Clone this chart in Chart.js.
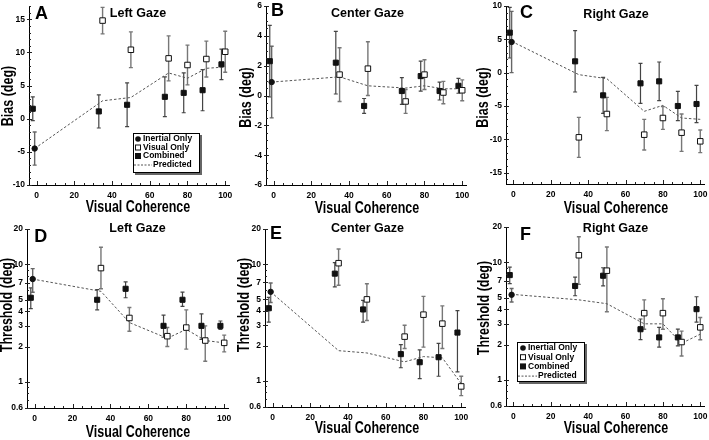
<!DOCTYPE html>
<html><head><meta charset="utf-8">
<script src="https://cdn.jsdelivr.net/npm/chart.js@4.4.1/dist/chart.umd.min.js"></script>
<style>
html,body{margin:0;padding:0;background:#fff;width:709px;height:440px;overflow:hidden}
canvas{position:absolute;left:0;top:0}
</style></head><body>
<canvas id="cA" width="709" height="440"></canvas>
<canvas id="cB" width="709" height="440"></canvas>
<canvas id="cC" width="709" height="440"></canvas>
<canvas id="cD" width="709" height="440"></canvas>
<canvas id="cE" width="709" height="440"></canvas>
<canvas id="cF" width="709" height="440"></canvas>
<script>
// ---------- data ----------
const coherenceCombined = [-2, 33, 48, 68, 78, 88, 98];
const coherenceVisual = [35, 50, 70, 80, 90, 100];
const coherenceInertial = [-1];
const coherencePredicted = [-1, 35, 50, 70, 80, 90, 100];
const xTickLabels = [0, 20, 40, 60, 80, 100];
const biasTicksLeft = [-10, -5, 0, 5, 10, 15];
const biasTicksCenter = [-6, -4, -2, 0, 2, 4, 6];
const biasTicksRight = [-15, -10, -5, 0, 5, 10];
const thresholdTicks = [0.6, 1, 2, 3, 4, 5, 7, 10, 20];
const thresholdMinorTicks = [0.7, 0.8, 0.9, 6, 8, 9];

// A: left gaze bias (value, symmetric error)
const leftBiasInertial = [-4.5];
const leftBiasInertialErr = [2.5];
const leftBiasCombined = [1.5, 1.1, 2.1, 3.3, 3.9, 4.3, 8.2];
const leftBiasCombinedErr = [1.8, 2.5, 3.3, 3.0, 3.0, 3.1, 2.3];
const leftBiasVisual = [14.8, 10.4, 9.1, 8.1, 9.0, 10.1];
const leftBiasVisualErr = [2.0, 2.7, 3.4, 3.0, 2.7, 3.1];
const leftBiasPredicted = [-4.5, 2.7, 3.2, 6.9, 6.1, 7.6, 7.8];

// B: center gaze bias
const centerBiasInertial = [0.9];
const centerBiasInertialErr = [2.4];
const centerBiasCombined = [2.3, 2.2, -0.7, 0.3, 1.3, 0.3, 0.65];
const centerBiasCombinedErr = [2.4, 2.1, 0.5, 0.9, 1.0, 0.6, 0.5];
const centerBiasVisual = [1.4, 1.8, -0.4, 1.4, 0.2, 0.35];
const centerBiasVisualErr = [1.8, 1.8, 0.8, 1.0, 0.75, 0.7];
const centerBiasPredicted = [0.9, 1.25, 0.65, 0.5, 0.65, 0.45, 0.45];

// C: right gaze bias
const rightBiasInertial = [4.6];
const rightBiasInertialErr = [4.6];
const rightBiasCombined = [6.0, 1.7, -3.4, -1.6, -1.3, -5.0, -4.7];
const rightBiasCombinedErr = [3.8, 4.6, 2.7, 3.0, 2.9, 2.2, 2.8];
const rightBiasVisual = [-9.7, -6.2, -9.3, -6.8, -9.0, -10.3];
const rightBiasVisualErr = [3.0, 2.5, 2.3, 1.7, 2.8, 1.7];
const rightBiasPredicted = [4.7, -0.3, -0.9, -5.8, -4.9, -6.8, -7.0];

// D: left gaze threshold (value, low, high)
const leftThrInertial = [7.5], leftThrInertialLo = [5.8], leftThrInertialHi = [9.2];
const leftThrCombined = [5.2, 5.0, 6.2, 3.0, 5.0, 3.0, 3.0];
const leftThrCombinedLo = [4.2, 4.1, 5.2, 2.4, 4.4, 2.3, 2.8];
const leftThrCombinedHi = [6.3, 6.1, 7.1, 3.7, 5.8, 3.8, 3.3];
const leftThrVisual = [9.3, 3.5, 2.45, 2.9, 2.25, 2.15];
const leftThrVisualLo = [6.2, 2.7, 2.0, 1.9, 1.5, 1.8];
const leftThrVisualHi = [14.0, 4.3, 2.9, 4.1, 3.0, 2.5];
const leftThrPredicted = [7.5, 5.9, 3.2, 2.35, 2.8, 2.25, 2.15];

// E: center gaze threshold
const centerThrInertial = [5.8], centerThrInertialLo = [4.7], centerThrInertialHi = [6.9];
const centerThrCombined = [4.2, 8.3, 4.1, 1.7, 1.45, 1.6, 2.6];
const centerThrCombinedLo = [3.2, 6.4, 3.2, 1.3, 1.05, 1.1, 1.2];
const centerThrCombinedHi = [5.2, 10.3, 4.9, 2.05, 1.85, 2.1, 4.0];
const centerThrVisual = [10.2, 5.0, 2.4, 3.7, 3.1, 0.9];
const centerThrVisualLo = [6.6, 3.3, 1.9, 1.95, 1.9, 0.75];
const centerThrVisualHi = [13.5, 6.8, 3.0, 5.3, 4.4, 1.1];
const centerThrPredicted = [5.8, 1.82, 1.74, 1.46, 1.62, 1.58, 0.95];

// F: right gaze threshold
const rightThrInertial = [5.3], rightThrInertialLo = [4.6], rightThrInertialHi = [6.0];
const rightThrCombined = [7.8, 6.3, 7.7, 2.7, 2.3, 2.3, 4.0];
const rightThrCombinedLo = [6.6, 5.2, 6.3, 2.2, 1.9, 1.95, 3.1];
const rightThrCombinedHi = [9.1, 7.5, 9.0, 3.3, 2.8, 2.7, 5.1];
const rightThrVisual = [11.5, 8.5, 3.7, 3.7, 2.1, 2.8];
const rightThrVisualLo = [6.5, 3.8, 2.7, 2.7, 1.6, 2.2];
const rightThrVisualHi = [16.5, 13.5, 4.8, 4.9, 2.6, 3.4];
const rightThrPredicted = [5.35, 4.8, 4.45, 3.0, 3.0, 2.05, 2.45];

const seriesLabels = ['Inertial Only', 'Visual Only', 'Combined', 'Predicted'];

// ---------- helpers ----------
const FONT = '"Liberation Sans", Arial, Helvetica, sans-serif';
const pts = (xs, ys) => xs.map((x, i) => ({x: x, y: ys[i]}));

function makeDatasets(s) {
  return [
    {label: seriesLabels[3], data: pts(coherencePredicted, s.pred), showLine: true,
     borderColor: '#555', borderWidth: 1, borderDash: [2.5, 2], pointRadius: 0, order: 4, rank: 3},
    {label: seriesLabels[2], data: pts(coherenceCombined, s.comb), pointStyle: 'rect', pointRadius: 3.6,
     backgroundColor: '#111', borderColor: '#111', borderWidth: 1, order: 3, rank: 2,
     errLo: s.combLo, errHi: s.combHi, errColor: '#444', errWidth: 1.2},
    {label: seriesLabels[1], data: pts(coherenceVisual, s.vis), pointStyle: 'rect', pointRadius: 3.9,
     backgroundColor: '#fff', borderColor: '#111', borderWidth: 1, order: 2, rank: 1,
     errLo: s.visLo, errHi: s.visHi, errColor: '#777', errWidth: 1.4},
    {label: seriesLabels[0], data: pts(coherenceInertial, s.inert), pointStyle: 'circle', pointRadius: 2.7,
     backgroundColor: '#111', borderColor: '#111', borderWidth: 1, order: 1, rank: 0,
     errLo: s.inertLo, errHi: s.inertHi, errColor: '#666', errWidth: 1.4}
  ];
}
const symLo = (v, e) => v.map((x, i) => x - e[i]);
const symHi = (v, e) => v.map((x, i) => x + e[i]);

// ---------- plugins ----------
const errorBars = {
  id: 'errorBars',
  beforeDatasetsDraw(chart) {
    const ctx = chart.ctx, xs = chart.scales.x, ys = chart.scales.y;
    chart.data.datasets.forEach(ds => {
      if (!ds.errLo) return;
      ctx.save();
      ctx.strokeStyle = ds.errColor; ctx.lineWidth = ds.errWidth;
      ds.data.forEach((p, j) => {
        const x = xs.getPixelForValue(p.x);
        const y1 = ys.getPixelForValue(ds.errLo[j]);
        const y2 = ys.getPixelForValue(ds.errHi[j]);
        ctx.beginPath();
        ctx.moveTo(x, y1); ctx.lineTo(x, y2);
        ctx.moveTo(x - 2, y1); ctx.lineTo(x + 2, y1);
        ctx.moveTo(x - 2, y2); ctx.lineTo(x + 2, y2);
        ctx.stroke();
      });
      ctx.restore();
    });
  }
};

const tickMarks = {
  id: 'tickMarks',
  afterDraw(chart, args, o) {
    const xs = chart.scales.x, ys = chart.scales.y, a = chart.chartArea, ctx = chart.ctx;
    ctx.save(); ctx.strokeStyle = '#222'; ctx.lineWidth = 1; ctx.beginPath();
    for (let v = 0; v <= 100; v += 5) {
      const px = Math.round(xs.getPixelForValue(v)) + 0.5, len = (v % 20 === 0) ? 4 : 2;
      ctx.moveTo(px, a.bottom); ctx.lineTo(px, a.bottom - len);
    }
    const yMaj = o.yMajor, yMin = o.yMinor;
    yMaj.forEach(v => { const py = Math.round(ys.getPixelForValue(v)) + 0.5; ctx.moveTo(a.left - 2, py); ctx.lineTo(a.left + 3, py); });
    yMin.forEach(v => { const py = Math.round(ys.getPixelForValue(v)) + 0.5; ctx.moveTo(a.left, py); ctx.lineTo(a.left + 2, py); });
    ctx.stroke(); ctx.restore();
  }
};

const panelText = {
  id: 'panelText',
  afterDraw(chart, args, o) {
    const ctx = chart.ctx;
    ctx.save(); ctx.fillStyle = '#000';
    ctx.font = 'bold 18px ' + FONT; ctx.textAlign = 'left'; ctx.textBaseline = 'alphabetic';
    ctx.fillText(o.letter, o.letterPos[0], o.letterPos[1]);
    ctx.font = 'bold 12.5px ' + FONT; ctx.textAlign = 'center';
    ctx.fillText(o.title, o.titlePos[0], o.titlePos[1]);
    ctx.font = 'bold 16px ' + FONT;
    ctx.save(); ctx.translate(o.xTitlePos[0], o.xTitlePos[1]); ctx.scale(0.78, 1);
    ctx.fillText(o.xTitle, 0, 0); ctx.restore();
    ctx.save(); ctx.translate(o.yTitlePos[0], o.yTitlePos[1]); ctx.rotate(-Math.PI / 2); ctx.scale(0.78, 1);
    ctx.textBaseline = 'middle'; ctx.fillText(o.yTitle, 0, 0); ctx.restore();
    ctx.restore();
  }
};

const boxLegend = {
  id: 'boxLegend',
  afterDraw(chart, args, o) {
    if (!o.box) return;
    const ctx = chart.ctx, [x, y, w, h] = o.box;
    ctx.save();
    ctx.fillStyle = '#666'; ctx.fillRect(x + 2, y + 2, w, h);
    ctx.fillStyle = '#fff'; ctx.fillRect(x, y, w, h);
    ctx.strokeStyle = '#000'; ctx.lineWidth = 1; ctx.strokeRect(x + 0.5, y + 0.5, w - 1, h - 1);
    const items = chart.data.datasets.slice().sort((a, b) => a.rank - b.rank);
    ctx.font = 'bold 8.5px ' + FONT; ctx.textBaseline = 'middle'; ctx.textAlign = 'left';
    items.forEach((ds, i) => {
      const cy = y + o.rowTop + i * o.rowStep;
      const mx = x + o.markerX;
      ctx.fillStyle = '#111'; ctx.strokeStyle = '#111'; ctx.lineWidth = 1;
      if (ds.showLine) {
        ctx.save(); ctx.strokeStyle = '#555'; ctx.setLineDash([2, 1.5]);
        ctx.beginPath(); ctx.moveTo(x + 1, cy + 0.5); ctx.lineTo(x + o.lineEnd, cy + 0.5); ctx.stroke(); ctx.restore();
        ctx.fillStyle = '#000'; ctx.fillText(ds.label, x + o.lineEnd + 1, cy);
        return;
      }
      if (ds.pointStyle === 'circle') {
        ctx.beginPath(); ctx.arc(mx, cy, 2.8, 0, Math.PI * 2); ctx.fill();
      } else if (ds.backgroundColor === '#fff') {
        ctx.fillStyle = '#fff'; ctx.fillRect(mx - 2.5, cy - 2.5, 5, 5); ctx.strokeRect(mx - 2.5, cy - 2.5, 5, 5);
      } else {
        ctx.fillRect(mx - 3, cy - 3, 6, 6);
      }
      ctx.fillStyle = '#000'; ctx.fillText(ds.label, x + o.textX, cy);
    });
    ctx.restore();
  }
};

// ---------- panels ----------
const range = (a, b, s) => { const r = []; for (let v = a; v <= b + 1e-9; v += s) r.push(+v.toFixed(3)); return r; };

const panels = [
  {id: 'cA', letter: 'A', title: 'Left Gaze', area: [29, 6, 229, 185], type: 'linear', ymin: -10, ymax: 17,
   yTicks: biasTicksLeft, yMinor: range(-10, 17, 1), yTitle: 'Bias (deg)',
   letterPos: [35, 19], titlePos: [138, 16.7], xTitlePos: [138, 212.3], yTitlePos: [9, 96],
   s: {inert: leftBiasInertial, inertLo: symLo(leftBiasInertial, leftBiasInertialErr), inertHi: symHi(leftBiasInertial, leftBiasInertialErr),
       comb: leftBiasCombined, combLo: symLo(leftBiasCombined, leftBiasCombinedErr), combHi: symHi(leftBiasCombined, leftBiasCombinedErr),
       vis: leftBiasVisual, visLo: symLo(leftBiasVisual, leftBiasVisualErr), visHi: symHi(leftBiasVisual, leftBiasVisualErr),
       pred: leftBiasPredicted},
   legend: {box: [133, 133, 67, 40], rowTop: 6, rowStep: 8.5, markerX: 5, textX: 10, lineEnd: 19}},
  {id: 'cB', letter: 'B', title: 'Center Gaze', area: [266, 6, 466, 185], type: 'linear', ymin: -6, ymax: 6,
   yTicks: biasTicksCenter, yMinor: range(-6, 6, 0.5), yTitle: 'Bias (deg)',
   letterPos: [271, 16], titlePos: [367.5, 17.3], xTitlePos: [367, 212.5], yTitlePos: [247, 97.5],
   s: {inert: centerBiasInertial, inertLo: symLo(centerBiasInertial, centerBiasInertialErr), inertHi: symHi(centerBiasInertial, centerBiasInertialErr),
       comb: centerBiasCombined, combLo: symLo(centerBiasCombined, centerBiasCombinedErr), combHi: symHi(centerBiasCombined, centerBiasCombinedErr),
       vis: centerBiasVisual, visLo: symLo(centerBiasVisual, centerBiasVisualErr), visHi: symHi(centerBiasVisual, centerBiasVisualErr),
       pred: centerBiasPredicted},
   legend: {}},
  {id: 'cC', letter: 'C', title: 'Right Gaze', area: [506, 6, 706, 184], type: 'linear', ymin: -16.7, ymax: 10,
   yTicks: biasTicksRight, yMinor: range(-16, 10, 1), yTitle: 'Bias (deg)',
   letterPos: [520, 17.7], titlePos: [616, 18.3], xTitlePos: [616, 213], yTitlePos: [484, 97.5],
   s: {inert: rightBiasInertial, inertLo: symLo(rightBiasInertial, rightBiasInertialErr), inertHi: symHi(rightBiasInertial, rightBiasInertialErr),
       comb: rightBiasCombined, combLo: symLo(rightBiasCombined, rightBiasCombinedErr), combHi: symHi(rightBiasCombined, rightBiasCombinedErr),
       vis: rightBiasVisual, visLo: symLo(rightBiasVisual, rightBiasVisualErr), visHi: symHi(rightBiasVisual, rightBiasVisualErr),
       pred: rightBiasPredicted},
   legend: {}},
  {id: 'cD', letter: 'D', title: 'Left Gaze', area: [27, 229, 228, 408], type: 'logarithmic', ymin: 0.6, ymax: 20,
   yTicks: thresholdTicks, yMinor: thresholdMinorTicks, yTitle: 'Threshold (deg)',
   letterPos: [34.3, 242.3], titlePos: [137.5, 231.7], xTitlePos: [138, 436.5], yTitlePos: [8, 305],
   s: {inert: leftThrInertial, inertLo: leftThrInertialLo, inertHi: leftThrInertialHi,
       comb: leftThrCombined, combLo: leftThrCombinedLo, combHi: leftThrCombinedHi,
       vis: leftThrVisual, visLo: leftThrVisualLo, visHi: leftThrVisualHi, pred: leftThrPredicted},
   legend: {}},
  {id: 'cE', letter: 'E', title: 'Center Gaze', area: [265, 229, 465, 407], type: 'logarithmic', ymin: 0.6, ymax: 20,
   yTicks: thresholdTicks, yMinor: thresholdMinorTicks, yTitle: 'Threshold (deg)',
   letterPos: [270, 239], titlePos: [367.5, 231.7], xTitlePos: [367, 432.5], yTitlePos: [245, 305],
   s: {inert: centerThrInertial, inertLo: centerThrInertialLo, inertHi: centerThrInertialHi,
       comb: centerThrCombined, combLo: centerThrCombinedLo, combHi: centerThrCombinedHi,
       vis: centerThrVisual, visLo: centerThrVisualLo, visHi: centerThrVisualHi, pred: centerThrPredicted},
   legend: {}},
  {id: 'cF', letter: 'F', title: 'Right Gaze', area: [506, 227, 706, 406], type: 'logarithmic', ymin: 0.6, ymax: 20,
   yTicks: thresholdTicks, yMinor: thresholdMinorTicks, yTitle: 'Threshold (deg)',
   letterPos: [520, 240], titlePos: [615.5, 231.7], xTitlePos: [616, 432.5], yTitlePos: [485, 308],
   s: {inert: rightThrInertial, inertLo: rightThrInertialLo, inertHi: rightThrInertialHi,
       comb: rightThrCombined, combLo: rightThrCombinedLo, combHi: rightThrCombinedHi,
       vis: rightThrVisual, visLo: rightThrVisualLo, visHi: rightThrVisualHi, pred: rightThrPredicted},
   legend: {box: [517, 342, 68, 40], rowTop: 6, rowStep: 9.2, markerX: 6, textX: 11, lineEnd: 20}}
];

const Y_W = 26, X_H = 20;
panels.forEach(p => {
  const [l, t, r, b] = p.area;
  new Chart(document.getElementById(p.id), {
    type: 'scatter',
    data: {datasets: makeDatasets(p.s)},
    plugins: [errorBars, tickMarks, panelText, boxLegend],
    options: {
      responsive: false, animation: false, devicePixelRatio: 1,
      layout: {padding: {left: l - Y_W, top: t, right: 709 - r, bottom: 440 - b - X_H}},
      plugins: {
        legend: {display: false}, tooltip: {enabled: false},
        tickMarks: {yMajor: p.yTicks, yMinor: p.yMinor},
        panelText: {letter: p.letter, title: p.title, letterPos: p.letterPos, titlePos: p.titlePos,
                    xTitle: 'Visual Coherence', yTitle: p.yTitle, xTitlePos: p.xTitlePos, yTitlePos: p.yTitlePos},
        boxLegend: p.legend
      },
      scales: {
        x: {type: 'linear', min: -4, max: 102,
            afterBuildTicks: s => { s.ticks = xTickLabels.map(v => ({value: v})); },
            afterFit: s => { s.height = X_H; s.paddingLeft = 0; s.paddingRight = 0; },
            grid: {display: false, drawTicks: false},
            border: {display: true, color: '#000', width: 1},
            ticks: {padding: 6, color: '#000', font: {family: FONT, size: 8.5, weight: 'bold'}, callback: v => String(v), maxRotation: 0, autoSkip: false}},
        y: {type: p.type, min: p.ymin, max: p.ymax,
            afterBuildTicks: s => { s.ticks = p.yTicks.map(v => ({value: v})); },
            afterFit: s => { s.width = Y_W; s.paddingTop = 0; s.paddingBottom = 0; },
            grid: {display: false, drawTicks: false},
            border: {display: true, color: '#000', width: 1},
            ticks: {padding: 4, color: '#000', font: {family: FONT, size: 8.5, weight: 'bold'}, callback: v => String(v), autoSkip: false}}
      }
    }
  });
});
</script>
</body></html>
